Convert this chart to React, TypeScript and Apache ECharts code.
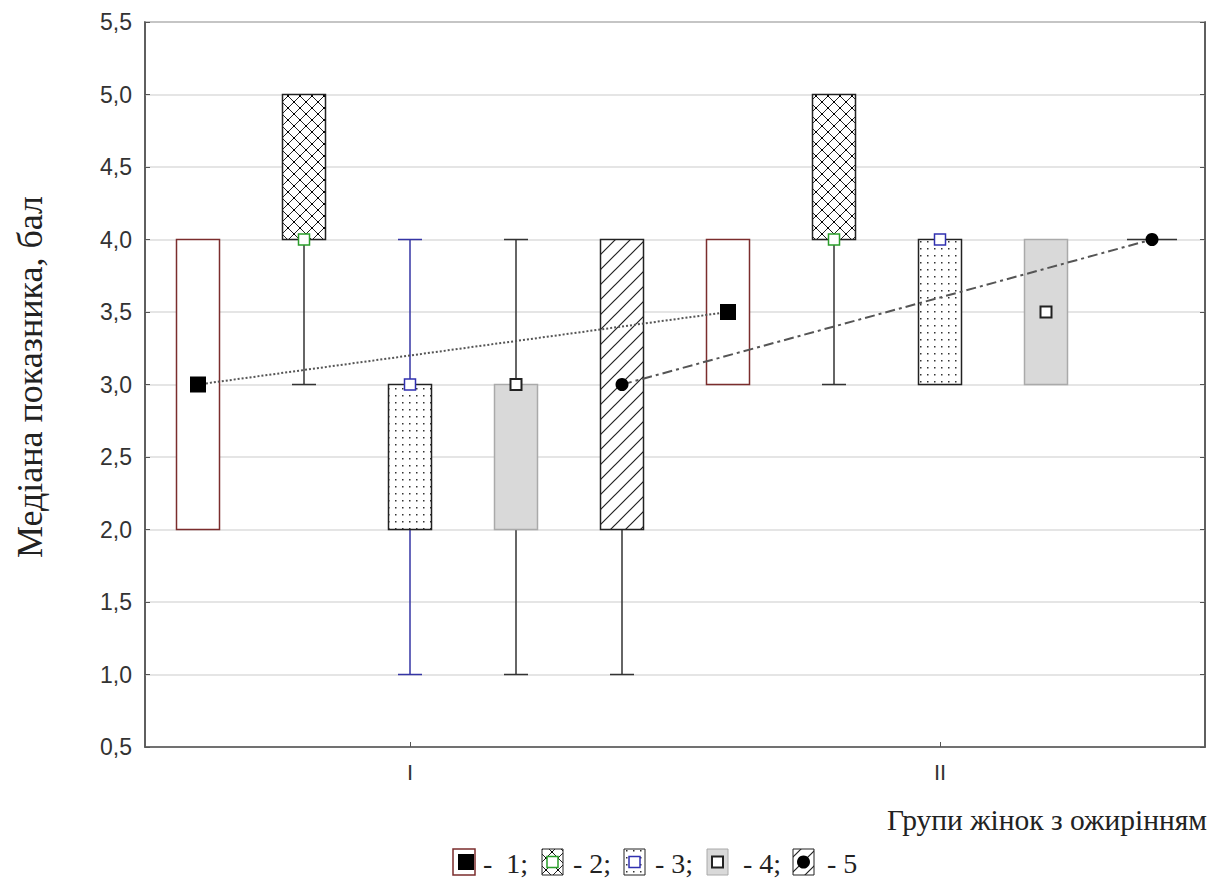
import React, { useEffect, useRef } from "react";
import * as echarts from "echarts";

// ---- data ----
const slots = ["I-1", "I-2", "I-3", "I-4", "I-5", "II-1", "II-2", "II-3", "II-4", "II-5"];
const xTickLabels = ["", "", "I", "", "", "", "", "II", "", ""];
const boxLow = [2, 4, 2, 2, 2, 3, 4, 3, 3, 4];
const boxHigh = [4, 5, 3, 3, 4, 4, 5, 4, 4, 4];
const whiskerLow = [2, 3, 1, 1, 1, 3, 3, 3, 3, 4];
const whiskerHigh = [4, 5, 4, 4, 4, 4, 5, 4, 4, 4];
const medians = [3, 4, 3, 3, 3, 3.5, 4, 4, 3.5, 4];
const seriesType = [0, 1, 2, 3, 4, 0, 1, 2, 3, 4];
const legendLabels = ["-  1;", "- 2;", "- 3;", "- 4;", "- 5"];
const yTicks = { min: 0.5, max: 5.5, step: 0.5 };

function makeTile(size: number, draw: (c: CanvasRenderingContext2D) => void) {
  const cv = document.createElement("canvas");
  cv.width = size;
  cv.height = size;
  const c = cv.getContext("2d")!;
  c.fillStyle = "#ffffff";
  c.fillRect(0, 0, size, size);
  draw(c);
  return { image: cv.toDataURL(), repeat: "repeat", imageWidth: size, imageHeight: size } as any;
}

export default function App() {
  const ref = useRef<HTMLDivElement>(null);
  useEffect(() => {
    const chart = echarts.init(ref.current!, null, { renderer: "svg" });

    const cross = makeTile(12, (c) => {
      c.strokeStyle = "#222";
      c.lineWidth = 1;
      c.beginPath();
      c.moveTo(0, 0); c.lineTo(12, 12);
      c.moveTo(12, 0); c.lineTo(0, 12);
      c.stroke();
      c.fillStyle = "#000";
      c.fillRect(5, 5, 2, 2);
      c.fillRect(0, 0, 1, 1); c.fillRect(11, 0, 1, 1); c.fillRect(0, 11, 1, 1); c.fillRect(11, 11, 1, 1);
    });
    const dots = makeTile(7, (c) => {
      c.fillStyle = "#333";
      c.fillRect(3, 3, 1.5, 1.5);
    });
    const diag = makeTile(15, (c) => {
      c.strokeStyle = "#222";
      c.lineWidth = 1.2;
      c.beginPath();
      c.moveTo(0, 15); c.lineTo(15, 0);
      c.moveTo(-2, 2); c.lineTo(2, -2);
      c.moveTo(13, 17); c.lineTo(17, 13);
      c.stroke();
    });

    const boxFill = ["#ffffff", cross, dots, "#d9d9d9", diag];
    const boxStroke = ["#7b2d2d", "#222", "#222", "#aaaaaa", "#222"];
    const whiskColor = ["#333", "#333", "#3535a5", "#333", "#333"];

    const boxData = slots.map((_, i) => [i, boxLow[i], boxHigh[i], whiskerLow[i], whiskerHigh[i], seriesType[i]]);
    const medData = slots.map((_, i) => [i, medians[i], seriesType[i]]);

    const BW = 43;
    const CAP = 24;

    const renderBox = (params: any, api: any) => {
      const i = api.value(0);
      const lo = api.value(1), hi = api.value(2), wl = api.value(3), wh = api.value(4);
      const t = api.value(5);
      const pLo = api.coord([i, lo]);
      const pHi = api.coord([i, hi]);
      const pWl = api.coord([i, wl]);
      const pWh = api.coord([i, wh]);
      const x = pLo[0];
      const children: any[] = [];
      const ws = { stroke: whiskColor[t], lineWidth: 1.5 };
      if (wl < lo) {
        children.push({ type: "line", shape: { x1: x, y1: pLo[1], x2: x, y2: pWl[1] }, style: ws });
        children.push({ type: "line", shape: { x1: x - CAP / 2, y1: pWl[1], x2: x + CAP / 2, y2: pWl[1] }, style: ws });
      }
      if (wh > hi) {
        children.push({ type: "line", shape: { x1: x, y1: pHi[1], x2: x, y2: pWh[1] }, style: ws });
        children.push({ type: "line", shape: { x1: x - CAP / 2, y1: pWh[1], x2: x + CAP / 2, y2: pWh[1] }, style: ws });
      }
      if (hi > lo) {
        children.push({
          type: "rect",
          shape: { x: x - BW / 2, y: pHi[1], width: BW, height: pLo[1] - pHi[1] },
          style: { fill: boxFill[t], stroke: boxStroke[t], lineWidth: 1.5 },
        });
      } else {
        children.push({ type: "line", shape: { x1: x - 25, y1: pLo[1], x2: x + 25, y2: pLo[1] }, style: { stroke: "#333", lineWidth: 1.5 } });
      }
      return { type: "group", children };
    };

    const markerEl = (t: number, x: number, y: number): any => {
      if (t === 0) return { type: "rect", shape: { x: x - 8, y: y - 8, width: 16, height: 16 }, style: { fill: "#000" } };
      if (t === 1) return { type: "rect", shape: { x: x - 5.5, y: y - 5.5, width: 11, height: 11 }, style: { fill: "#fff", stroke: "#2a9d2a", lineWidth: 1.5 } };
      if (t === 2) return { type: "rect", shape: { x: x - 5.5, y: y - 5.5, width: 11, height: 11 }, style: { fill: "#fff", stroke: "#3030b0", lineWidth: 1.5 } };
      if (t === 3) return { type: "rect", shape: { x: x - 5.5, y: y - 5.5, width: 11, height: 11 }, style: { fill: "#fff", stroke: "#222", lineWidth: 2 } };
      return { type: "circle", shape: { cx: x, cy: y, r: 6.5 }, style: { fill: "#000" } };
    };

    const renderMed = (params: any, api: any) => {
      const i = api.value(0);
      const p = api.coord([i, api.value(1)]);
      return markerEl(api.value(2), p[0], p[1]);
    };

    const lineA = medians.map((v, i) => (seriesType[i] === 0 ? v : null));
    const lineB = medians.map((v, i) => (seriesType[i] === 4 ? v : null));

    // legend
    const legendIconX = [453, 542, 624, 707, 793];
    const legendTextX = [483, 573, 655, 743, 827];
    const iy = 849, ih = 26, iw = 21;
    const legendEls: any[] = [];
    for (let k = 0; k < 5; k++) {
      const x0 = legendIconX[k];
      if (k === 0) {
        legendEls.push({ type: "rect", shape: { x: x0, y: iy, width: 22, height: ih }, style: { fill: "#fff", stroke: "#7b2d2d", lineWidth: 1.5 } });
        legendEls.push({ type: "rect", shape: { x: x0 + 5, y: iy + 5, width: 16, height: 16 }, style: { fill: "#000" } });
      } else {
        legendEls.push({ type: "rect", shape: { x: x0, y: iy, width: iw, height: ih }, style: { fill: boxFill[k], stroke: boxStroke[k] === "#aaaaaa" ? "#aaaaaa" : "#222", lineWidth: 1 } });
        const m = markerEl(k, x0 + iw / 2, iy + ih / 2);
        legendEls.push(m);
      }
      legendEls.push({
        type: "text",
        x: legendTextX[k],
        y: iy + ih / 2 + 1,
        style: { text: legendLabels[k], font: '28px "Liberation Serif", "Times New Roman", serif', fill: "#222", verticalAlign: "middle", align: "left" },
      });
    }

    const fmt = (v: number) => v.toFixed(1).replace(".", ",");

    chart.setOption({
      animation: false,
      backgroundColor: "#fff",
      grid: { left: 145, right: 17, top: 22, bottom: 132, show: true, borderColor: "#555", borderWidth: 1.5 },
      xAxis: {
        type: "category",
        data: slots,
        axisLine: { show: true, lineStyle: { color: "#555", width: 1.5 } },
        axisTick: { show: true, inside: true, length: 5, alignWithLabel: true, interval: (idx: number) => xTickLabels[idx] !== "", lineStyle: { color: "#555" } },
        axisLabel: {
          interval: (idx: number) => xTickLabels[idx] !== "",
          formatter: (_v: string, idx: number) => xTickLabels[idx],
          fontFamily: '"Liberation Sans", Arial, sans-serif',
          fontSize: 22,
          color: "#333",
          margin: 14,
        },
        splitLine: { show: false },
      },
      yAxis: [
        {
          type: "value",
          min: yTicks.min,
          max: yTicks.max,
          interval: yTicks.step,
          axisLine: { show: true, lineStyle: { color: "#555", width: 1.5 } },
          axisTick: { show: true, inside: true, length: 5, lineStyle: { color: "#555" } },
          axisLabel: { formatter: fmt, fontFamily: '"Liberation Sans", Arial, sans-serif', fontSize: 23, color: "#333", margin: 13 },
          splitLine: { show: true, lineStyle: { color: "#dcdcdc", width: 1.5 } },
        },
        {
          type: "value",
          position: "right",
          min: yTicks.min,
          max: yTicks.max,
          interval: yTicks.step,
          axisLine: { show: true, lineStyle: { color: "#555", width: 1.5 } },
          axisTick: { show: true, inside: true, length: 5, lineStyle: { color: "#555" } },
          axisLabel: { show: false },
          splitLine: { show: false },
        },
      ],
      series: [
        { type: "custom", name: "boxes", renderItem: renderBox, data: boxData, z: 2, encode: { x: 0, y: [1, 2, 3, 4] } },
        { type: "line", data: lineA, connectNulls: true, symbol: "none", z: 3, lineStyle: { color: "#555", width: 2, type: [2, 2] } },
        { type: "line", data: lineB, connectNulls: true, symbol: "none", z: 3, lineStyle: { color: "#555", width: 2, type: [10, 4, 3, 4] } },
        { type: "custom", name: "medians", renderItem: renderMed, data: medData, z: 4, encode: { x: 0, y: 1 } },
      ],
      graphic: [
        {
          type: "text",
          x: 30,
          y: 377,
          rotation: Math.PI / 2,
          style: { text: "Медіана показника, бал", font: '36px "Liberation Serif", "Times New Roman", serif', fill: "#222", align: "center", verticalAlign: "middle" },
        },
        {
          type: "text",
          x: 1207,
          y: 820,
          style: { text: "Групи жінок з ожирінням", font: '29.5px "Liberation Serif", "Times New Roman", serif', fill: "#222", align: "right", verticalAlign: "middle" },
        },
        ...legendEls,
      ],
    });
    return () => chart.dispose();
  }, []);
  return <div ref={ref} style={{ width: 1222, height: 879, position: "absolute", left: 0, top: 0 }} />;
}
